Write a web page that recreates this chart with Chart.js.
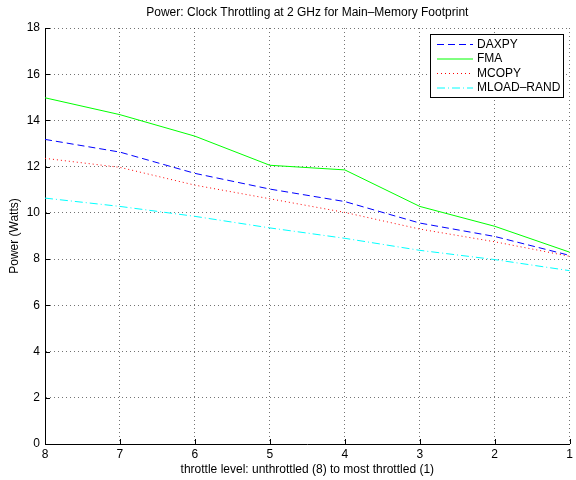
<!DOCTYPE html>
<html>
<head>
<meta charset="utf-8">
<script src="https://cdn.jsdelivr.net/npm/chart.js@4/dist/chart.umd.min.js"></script>
<style>
  html, body { margin: 0; padding: 0; background: #fff; }
  #wrap { width: 576px; height: 480px; }
</style>
</head>
<body>
<div id="wrap"><canvas id="c" width="576" height="480"></canvas></div>
<script>
// Throttle levels, from unthrottled (8) down to most throttled (1)
const throttleLevels = [8, 7, 6, 5, 4, 3, 2, 1];
const seriesNames = ['DAXPY', 'FMA', 'MCOPY', 'MLOAD–RAND'];
const daxpyPower = [13.18, 12.63, 11.71, 11.03, 10.49, 9.56, 8.98, 8.16];
const fmaPower   = [14.98, 14.25, 13.32, 12.06, 11.86, 10.28, 9.42, 8.30];
const mcopyPower = [12.36, 11.97, 11.20, 10.61, 10.02, 9.30, 8.75, 8.12];
const mloadPower = [10.64, 10.28, 9.85, 9.35, 8.90, 8.38, 7.98, 7.50];
const yTicks = [0, 2, 4, 6, 8, 10, 12, 14, 16, 18];

const FONT = 'Liberation Sans, Arial, Helvetica, sans-serif';
const FS = 12;

const toPoints = vals => throttleLevels.map((lvl, i) => ({ x: lvl, y: vals[i] }));

const styles = [
  { color: '#0000ff', dash: [7, 4] },
  { color: '#00ff00', dash: [] },
  { color: '#ff0000', dash: [1, 3] },
  { color: '#00ffff', dash: [8, 3, 1, 3] }
];
const values = [daxpyPower, fmaPower, mcopyPower, mloadPower];

const datasets = seriesNames.map((name, i) => ({
  label: name,
  data: toPoints(values[i]),
  borderColor: styles[i].color,
  backgroundColor: styles[i].color,
  borderDash: styles[i].dash,
  borderWidth: 1,
  pointRadius: 0,
  tension: 0,
  fill: false
}));

// Title centred over the plot area, inward tick marks, boxed legend
const decorations = {
  id: 'decorations',
  afterDraw(chart) {
    const { ctx, chartArea: a, scales } = chart;
    ctx.save();
    // title
    ctx.fillStyle = '#000';
    ctx.font = FS + 'px ' + FONT;
    ctx.textAlign = 'center';
    ctx.textBaseline = 'middle';
    ctx.fillText('Power: Clock Throttling at 2 GHz for Main–Memory Footprint', (a.left + a.right) / 2, 13);

    // inward tick marks
    ctx.strokeStyle = '#000';
    ctx.lineWidth = 1;
    ctx.beginPath();
    yTicks.forEach(v => {
      const y = Math.round(scales.y.getPixelForValue(v)) + 0.5;
      ctx.moveTo(a.left, y); ctx.lineTo(a.left + 5, y);
    });
    throttleLevels.forEach(v => {
      const x = Math.round(scales.x.getPixelForValue(v)) + 0.5;
      ctx.moveTo(x, a.bottom); ctx.lineTo(x, a.bottom - 5);
    });
    ctx.stroke();

    // legend
    const bx = 430.5, by = 34.5, bw = 133, bh = 63;
    ctx.fillStyle = '#fff';
    ctx.fillRect(bx, by, bw, bh);
    ctx.strokeStyle = '#000';
    ctx.lineWidth = 1;
    ctx.strokeRect(bx, by, bw, bh);
    const rowY = [44.5, 59, 73.5, 88];
    datasets.forEach((ds, i) => {
      ctx.strokeStyle = ds.borderColor;
      ctx.setLineDash(ds.borderDash);
      ctx.beginPath();
      ctx.moveTo(437, rowY[i]);
      ctx.lineTo(473, rowY[i]);
      ctx.stroke();
      ctx.setLineDash([]);
      ctx.fillStyle = '#000';
      ctx.textAlign = 'left';
      ctx.font = FS + 'px ' + FONT;
      ctx.fillText(ds.label, 477, rowY[i]);
    });
    ctx.restore();
  }
};

new Chart(document.getElementById('c'), {
  type: 'line',
  data: { datasets },
  plugins: [decorations],
  options: {
    responsive: false,
    animation: false,
    devicePixelRatio: 1,
    layout: { padding: { top: 28, right: 3, left: 0, bottom: 0 } },
    plugins: {
      legend: { display: false },
      title: { display: false },
      tooltip: { enabled: false }
    },
    scales: {
      x: {
        type: 'linear',
        reverse: true,
        min: 1,
        max: 8,
        afterFit: s => { s.height = 36; },
        afterBuildTicks: s => { s.ticks = throttleLevels.map(v => ({ value: v })); },
        ticks: {
          color: '#000',
          font: { family: FONT, size: FS },
          padding: 3,
          maxRotation: 0,
          callback: v => String(v)
        },
        grid: { color: 'rgba(0,0,0,0.55)', lineWidth: 1, drawTicks: false },
        border: { display: true, color: '#000', width: 1, dash: [1, 3] },
        title: {
          display: true,
          text: 'throttle level: unthrottled (8) to most throttled (1)',
          color: '#000',
          font: { family: FONT, size: FS },
          padding: { top: 0, bottom: 2.8 }
        }
      },
      y: {
        type: 'linear',
        min: 0,
        max: 18,
        afterFit: s => { s.width = 45; },
        afterBuildTicks: s => { s.ticks = yTicks.map(v => ({ value: v })); },
        ticks: {
          color: '#000',
          font: { family: FONT, size: FS },
          padding: 5
        },
        grid: { color: 'rgba(0,0,0,0.55)', lineWidth: 1, drawTicks: false },
        border: { display: true, color: '#000', width: 1, dash: [1, 3] },
        title: {
          display: true,
          text: 'Power (Watts)',
          color: '#000',
          font: { family: FONT, size: FS },
          padding: { top: 7.8, bottom: 0 }
        }
      }
    }
  }
});
</script>
</body>
</html>
